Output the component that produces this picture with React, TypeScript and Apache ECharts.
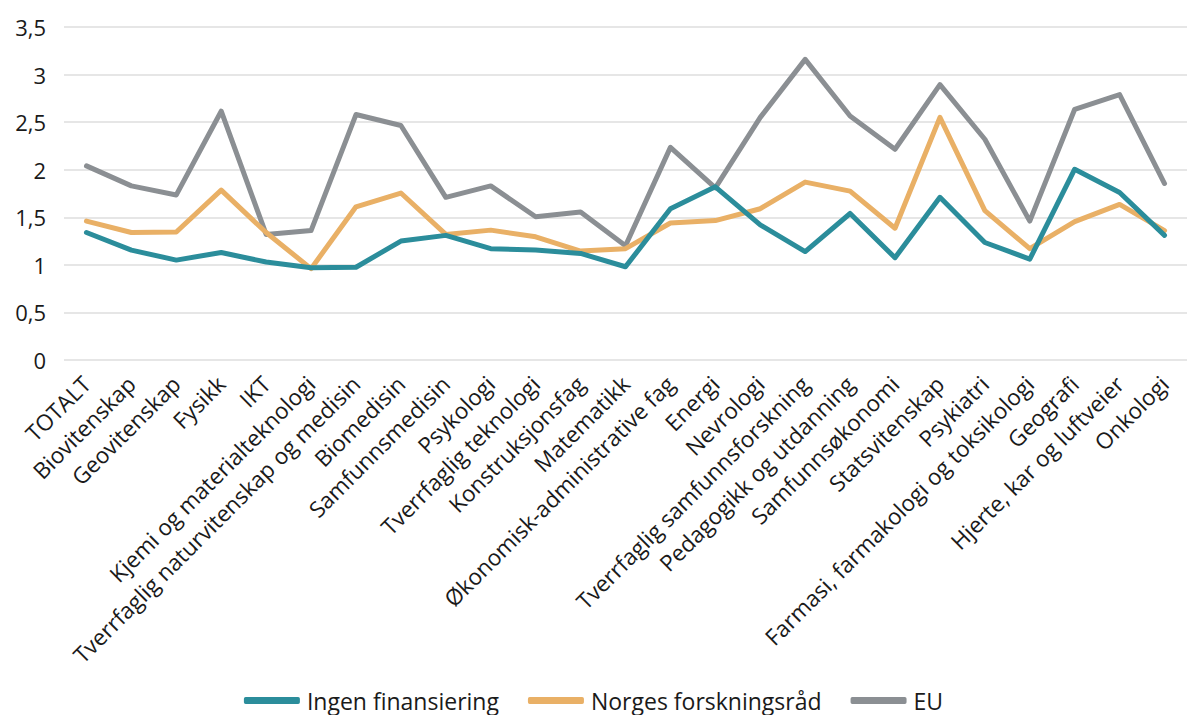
import React, { useEffect, useRef } from "react";
import * as echarts from "echarts";

const categories = [
  "TOTALT",
  "Biovitenskap",
  "Geovitenskap",
  "Fysikk",
  "IKT",
  "Kjemi og materialteknologi",
  "Tverrfaglig naturvitenskap og medisin",
  "Biomedisin",
  "Samfunnsmedisin",
  "Psykologi",
  "Tverrfaglig teknologi",
  "Konstruksjonsfag",
  "Matematikk",
  "Økonomisk-administrative fag",
  "Energi",
  "Nevrologi",
  "Tverrfaglig samfunnsforskning",
  "Pedagogikk og utdanning",
  "Samfunnsøkonomi",
  "Statsvitenskap",
  "Psykiatri",
  "Farmasi, farmakologi og toksikologi",
  "Geografi",
  "Hjerte, kar og luftveier",
  "Onkologi",
];

const ingenFinansiering = [
  1.34, 1.155, 1.05, 1.13, 1.03, 0.97, 0.975, 1.25, 1.31, 1.17, 1.155, 1.12, 0.98,
  1.59, 1.82, 1.42, 1.14, 1.54, 1.075, 1.71, 1.235, 1.06, 2.005, 1.76, 1.31,
];

const norgesForskningsrad = [
  1.46, 1.34, 1.345, 1.785, 1.34, 0.96, 1.61, 1.755, 1.32, 1.365, 1.295, 1.145, 1.17,
  1.44, 1.465, 1.59, 1.87, 1.775, 1.385, 2.55, 1.57, 1.17, 1.455, 1.635, 1.36,
];

const eu = [
  2.04, 1.83, 1.735, 2.615, 1.32, 1.36, 2.58, 2.465, 1.71, 1.83, 1.505, 1.555, 1.2,
  2.235, 1.81, 2.55, 3.16, 2.565, 2.215, 2.895, 2.32, 1.46, 2.635, 2.79, 1.855,
];

const seriesNames = ["Ingen finansiering", "Norges forskningsråd", "EU"];
const seriesColors = ["#2b8d9b", "#e9b066", "#8b8f93"];

const FONT = "'Open Sans', 'Noto Sans', sans-serif";

export default function App() {
  const ref = useRef<HTMLDivElement>(null);

  useEffect(() => {
    if (!ref.current) return;
    const chart = echarts.init(ref.current, null, { renderer: "svg" });
    const dataSets = [ingenFinansiering, norgesForskningsrad, eu];
    chart.setOption({
      animation: false,
      backgroundColor: "#ffffff",
      textStyle: { fontFamily: FONT },
      grid: { left: 64, right: -16, top: 27, bottom: 355, containLabel: false },
      legend: {
        data: seriesNames,
        top: 684,
        left: "center",
        icon: "roundRect",
        itemWidth: 56,
        itemHeight: 7,
        itemGap: 29,
        textStyle: { fontFamily: FONT, fontSize: 23, color: "#1a1a1a", padding: [0, 0, 0, 2] },
      },
      xAxis: {
        type: "category",
        data: categories,
        boundaryGap: true,
        axisLine: { show: false },
        axisTick: { show: false },
        axisLabel: {
          interval: 0,
          rotate: 45,
          margin: 20,
          fontSize: 22.5,
          color: "#1a1a1a",
          fontFamily: FONT,
        },
        splitLine: { show: false },
      },
      yAxis: {
        type: "value",
        min: 0,
        max: 3.5,
        interval: 0.5,
        axisLine: { show: false },
        axisTick: { show: false },
        axisLabel: {
          margin: 18,
          fontSize: 22,
          color: "#1a1a1a",
          fontFamily: FONT,
          formatter: (v: number) => String(v).replace(".", ","),
        },
        splitLine: { lineStyle: { color: "#dedede", width: 1.5 } },
      },
      series: seriesNames.map((name, i) => ({
        name,
        type: "line",
        data: dataSets[i],
        symbol: "none",
        color: seriesColors[i],
        lineStyle: { width: 5, color: seriesColors[i], cap: "round", join: "round" },
        z: 3 - i,
      })),
    });
    return () => chart.dispose();
  }, []);

  return (
    <div
      ref={ref}
      style={{ position: "fixed", left: 0, top: 0, width: 1187, height: 715 }}
    />
  );
}
